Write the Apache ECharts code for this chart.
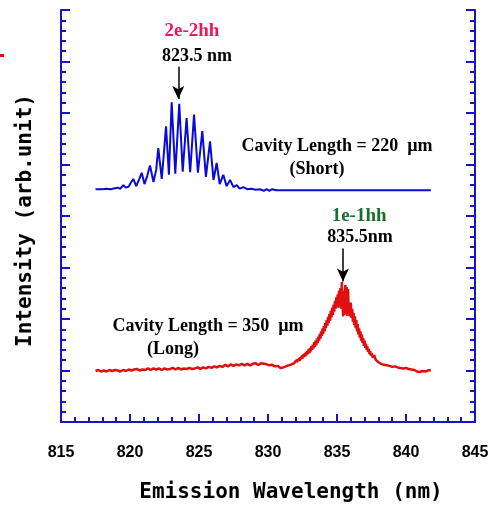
<!DOCTYPE html>
<html>
<head>
<meta charset="utf-8">
<script src="https://cdn.jsdelivr.net/npm/echarts@6/dist/echarts.min.js"></script>
<style>
  html, body { margin: 0; padding: 0; background: #fff; }
  #chart { width: 496px; height: 508px; }
</style>
</head>
<body>
<div id="chart"></div>
<script>
// x axis ticks (nm)
const xTicks = [815, 820, 825, 830, 835, 840, 845];

// short cavity (220 um) spectrum
const shortWl = [817.5, 818.0, 818.3, 818.6, 818.9, 819.1, 819.3, 819.52, 819.7, 819.9, 820.05, 820.24, 820.45, 820.65, 820.85,
  821.05, 821.25, 821.45, 821.7, 821.9, 822.05, 822.3, 822.45, 822.61, 822.82, 823.02, 823.28, 823.57, 823.82, 824.1,
  824.36, 824.64, 824.92, 825.24, 825.5, 825.8, 826.05, 826.28, 826.5, 826.76, 827.0, 827.25, 827.5, 827.73, 827.95,
  828.2, 828.5, 828.8, 829.1, 829.4, 829.7, 829.9, 830.1, 830.3, 830.6, 831, 832, 834, 836, 838, 840, 841.8];
const shortInt = [4.52, 4.52, 4.53, 4.52, 4.54, 4.55, 4.53, 4.60, 4.55, 4.57, 4.64, 4.72, 4.58, 4.70, 4.84,
  4.62, 4.78, 4.98, 4.66, 4.90, 5.32, 4.72, 5.20, 5.74, 4.80, 6.21, 4.82, 6.18, 4.86, 5.90,
  4.85, 5.97, 4.84, 5.65, 4.76, 5.45, 4.70, 5.03, 4.62, 4.80, 4.58, 4.70, 4.56, 4.60, 4.53,
  4.56, 4.52, 4.53, 4.51, 4.52, 4.49, 4.52, 4.49, 4.52, 4.50, 4.50, 4.50, 4.50, 4.50, 4.50, 4.50, 4.50];

// long cavity (350 um) spectrum
const longWl = [817.5, 817.7, 817.9, 818.1, 818.3, 818.5, 818.7, 818.9, 819.1, 819.3, 819.5, 819.7, 819.9, 820.1, 820.3,
  820.5, 820.7, 820.9, 821.1, 821.3, 821.5, 821.7, 821.9, 822.1, 822.3, 822.5, 822.7, 822.9, 823.1, 823.3,
  823.5, 823.7, 823.9, 824.1, 824.3, 824.5, 824.7, 824.9, 825.1, 825.3, 825.5, 825.7, 825.9, 826.1, 826.3,
  826.5, 826.7, 826.9, 827.1, 827.3, 827.5, 827.7, 827.9, 828.1, 828.3, 828.5, 828.7, 828.9, 829.1, 829.3,
  829.5, 829.7, 829.9, 830.1, 830.3, 830.5, 830.7, 830.9, 831.1, 831.3, 831.5, 831.7, 831.9,
  832.0, 832.05, 832.1, 832.15, 832.2, 832.25, 832.3, 832.35, 832.4, 832.45, 832.5, 832.55, 832.6, 832.65, 832.7,
  832.75, 832.8, 832.85, 832.9, 832.95, 833.0, 833.05, 833.1, 833.15, 833.2, 833.25, 833.3, 833.35, 833.4, 833.45,
  833.5, 833.55, 833.6, 833.65, 833.7, 833.75, 833.8, 833.85, 833.9, 833.95, 834.0, 834.05, 834.1, 834.15, 834.2,
  834.25, 834.3, 834.35, 834.4, 834.45, 834.5, 834.55, 834.6, 834.65, 834.7, 834.75, 834.8, 834.85, 834.9, 834.95,
  835.0, 835.05, 835.1, 835.15, 835.2, 835.25, 835.3, 835.35, 835.4, 835.45, 835.5, 835.55, 835.6, 835.65, 835.7,
  835.75, 835.8, 835.85, 835.9, 835.95, 836.0, 836.05, 836.1, 836.15, 836.2, 836.25, 836.3, 836.35, 836.4, 836.45,
  836.5, 836.55, 836.6, 836.65, 836.7, 836.75, 836.8, 836.85, 836.9, 836.95, 837.0, 837.05, 837.1, 837.15, 837.2,
  837.25, 837.3, 837.35, 837.4, 837.45, 837.5, 837.6, 837.7, 837.8, 837.9, 838.0, 838.1, 838.2, 838.3, 838.4,
  838.5, 838.6, 838.8, 839.0, 839.2, 839.4, 839.6, 839.8, 840.0, 840.2, 840.4, 840.6, 840.8, 841.0, 841.2,
  841.4, 841.6, 841.8];
const longInt = [0.99, 1.01, 0.98, 1.00, 0.98, 1.01, 0.99, 1.01, 1.00, 0.98, 1.01, 0.99, 1.02, 1.00, 1.02,
  1.03, 1.00, 1.02, 1.01, 1.04, 1.01, 1.04, 1.02, 1.04, 1.01, 1.04, 1.02, 1.03, 1.05, 1.02,
  1.05, 1.02, 1.04, 1.03, 1.05, 1.03, 1.04, 1.06, 1.03, 1.06, 1.04, 1.07, 1.05, 1.08, 1.06,
  1.09, 1.07, 1.11, 1.08, 1.12, 1.09, 1.12, 1.10, 1.13, 1.10, 1.13, 1.10, 1.13, 1.14, 1.11,
  1.14, 1.13, 1.12, 1.10, 1.11, 1.08, 1.09, 1.05, 1.06, 1.08, 1.10, 1.12, 1.14,
  1.15, 1.20, 1.16, 1.22, 1.18, 1.24, 1.19, 1.26, 1.22, 1.29, 1.23, 1.31, 1.26, 1.33, 1.27,
  1.36, 1.30, 1.38, 1.32, 1.42, 1.34, 1.44, 1.37, 1.48, 1.40, 1.50, 1.43, 1.55, 1.46, 1.58,
  1.49, 1.62, 1.53, 1.66, 1.58, 1.71, 1.62, 1.76, 1.67, 1.82, 1.71, 1.86, 1.76, 1.92, 1.82,
  1.98, 1.87, 2.04, 1.92, 2.10, 1.97, 2.16, 2.03, 2.22, 2.08, 2.28, 2.14, 2.35, 2.20, 2.42,
  2.25, 2.48, 2.22, 2.55, 2.30, 2.60, 2.20, 2.72, 2.30, 2.05, 2.55, 2.08, 2.66, 2.10, 2.62,
  2.06, 2.58, 2.12, 2.30, 2.05, 2.32, 2.02, 2.20, 1.95, 2.12, 1.88, 2.05, 1.82, 1.98, 1.76,
  1.90, 1.70, 1.82, 1.64, 1.76, 1.58, 1.70, 1.53, 1.63, 1.48, 1.58, 1.44, 1.52, 1.40, 1.47,
  1.36, 1.42, 1.32, 1.38, 1.29, 1.34, 1.25, 1.30, 1.21, 1.24, 1.16, 1.19, 1.13, 1.15, 1.11,
  1.12, 1.10, 1.09, 1.07, 1.08, 1.06, 1.05, 1.04, 1.05, 1.03, 1.02, 1.01, 0.98, 0.97, 0.99,
  0.98, 1.00, 1.01];

// peak markers: [wavelength, arrow top, arrow tip]
const shortPeak = [823.5, 6.9, 6.27];
const longPeak = [835.43, 3.37, 2.73];

const axisBlue = '#1414cc';
const serif = 'Liberation Serif';

var chart = echarts.init(document.getElementById('chart'));

const zip = (xs, ys) => xs.map((x, i) => [x, ys[i]]);

const textMark = (coord, text, color, size) => ({
  coord: coord,
  symbolSize: 1,
  itemStyle: { color: 'rgba(0,0,0,0)' },
  label: {
    show: true,
    position: 'inside',
    formatter: text,
    color: color,
    fontFamily: serif,
    fontWeight: 'bold',
    fontSize: size
  }
});

const arrow = (p) => ({
  silent: true,
  symbol: ['none', 'arrow'],
  symbolSize: [9, 13],
  label: { show: false },
  lineStyle: { color: '#000', width: 1.5, type: 'solid' },
  data: [[{ coord: [p[0], p[1]] }, { coord: [p[0], p[2]] }]]
});

var option = {
  animation: false,
  backgroundColor: '#fff',
  grid: { left: 61, right: 21, top: 10, bottom: 85 },
  xAxis: [
    {
      type: 'value',
      min: xTicks[0],
      max: xTicks[xTicks.length - 1],
      interval: 5,
      position: 'bottom',
      name: 'Emission Wavelength (nm)',
      nameLocation: 'middle',
      nameGap: 60,
      nameTextStyle: {
        fontFamily: 'DejaVu Sans Mono',
        fontWeight: 'bold',
        fontSize: 21,
        color: '#000',
        padding: [0, 0, 0, 46]
      },
      axisLine: { lineStyle: { color: axisBlue, width: 2 } },
      axisTick: { inside: true, length: 8, lineStyle: { color: axisBlue, width: 2 } },
      minorTick: { show: true, splitNumber: 5, length: 5, lineStyle: { color: axisBlue, width: 2 } },
      axisLabel: {
        margin: 23,
        color: '#000',
        fontFamily: 'Liberation Sans',
        fontWeight: 'bold',
        fontSize: 16
      },
      splitLine: { show: false }
    },
    {
      type: 'value',
      min: 815,
      max: 845,
      position: 'top',
      axisLine: { lineStyle: { color: axisBlue, width: 2 } },
      axisTick: { show: false },
      axisLabel: { show: false },
      splitLine: { show: false }
    }
  ],
  yAxis: [
    {
      type: 'value',
      min: 0,
      max: 8,
      interval: 1,
      position: 'left',
      name: 'Intensity (arb.unit)',
      nameLocation: 'middle',
      nameRotate: 90,
      nameGap: 25,
      nameTextStyle: {
        fontFamily: 'DejaVu Sans Mono',
        fontWeight: 'bold',
        fontSize: 21,
        color: '#000',
        padding: [0, 9, 0, 0]
      },
      axisLine: { show: true, lineStyle: { color: axisBlue, width: 2 } },
      axisTick: { show: true, inside: true, length: 9, lineStyle: { color: axisBlue, width: 2 } },
      minorTick: { show: true, splitNumber: 5, length: 5, lineStyle: { color: axisBlue, width: 2 } },
      axisLabel: { show: false },
      splitLine: { show: false }
    },
    {
      type: 'value',
      min: 0,
      max: 8,
      interval: 1,
      position: 'right',
      axisLine: { show: true, lineStyle: { color: axisBlue, width: 2 } },
      axisTick: { show: true, inside: true, length: 9, lineStyle: { color: axisBlue, width: 2 } },
      minorTick: { show: true, splitNumber: 5, length: 5, lineStyle: { color: axisBlue, width: 2 } },
      axisLabel: { show: false },
      splitLine: { show: false }
    }
  ],
  graphic: [
    // small red mark left of the frame
    { type: 'rect', left: 0, top: 54, shape: { width: 4, height: 3 }, style: { fill: '#e01010' } }
  ],
  series: [
    {
      name: 'Cavity Length = 220 um',
      type: 'line',
      showSymbol: false,
      data: zip(shortWl, shortInt),
      lineStyle: { color: '#0a0ad8', width: 2 },
      itemStyle: { color: '#0a0ad8' },
      markLine: arrow(shortPeak),
      markPoint: {
        silent: true,
        data: [
          textMark([824.49, 7.58], '2e-2hh', '#f0145a', 19),
          textMark([824.86, 7.09], '823.5 nm', '#000', 18),
          textMark([835.0, 5.35], 'Cavity Length = 220  \u00b5m', '#000', 18),
          textMark([833.55, 4.9], '(Short)', '#000', 18)
        ]
      }
    },
    {
      name: 'Cavity Length = 350 um',
      type: 'line',
      showSymbol: false,
      data: zip(longWl, longInt),
      lineStyle: { color: '#e01010', width: 2.5 },
      itemStyle: { color: '#e01010' },
      markLine: arrow(longPeak),
      markPoint: {
        silent: true,
        data: [
          textMark([836.6, 3.99], '1e-1hh', '#1a6e2e', 19),
          textMark([836.67, 3.57], '835.5nm', '#000', 18),
          textMark([825.65, 1.84], 'Cavity Length = 350  \u00b5m', '#000', 18),
          textMark([823.12, 1.41], '(Long)', '#000', 18)
        ]
      }
    }
  ]
};

chart.setOption(option);
</script>
</body>
</html>
